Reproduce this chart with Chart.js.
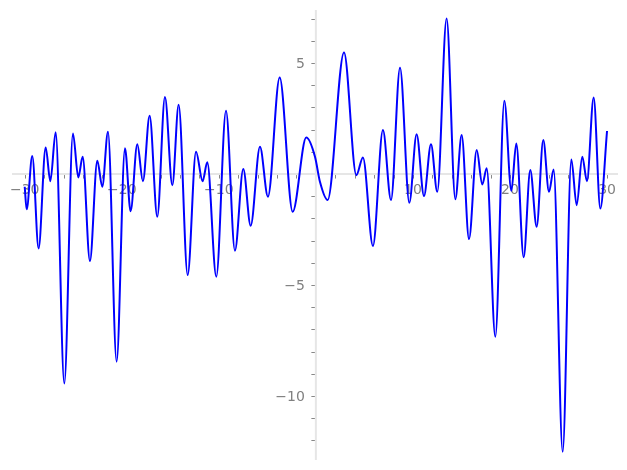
<!DOCTYPE html>
<html>
<head>
<meta charset="utf-8">
<script src="https://cdn.jsdelivr.net/npm/chart.js@4"></script>
<style>
  html, body { margin: 0; padding: 0; background: #fff; }
  canvas { display: block; }
</style>
</head>
<body>
<canvas id="plot" width="627" height="470"></canvas>
<script>
// values (turning points mostly)
const xValues = [-30, -29.80, -29.22, -28.57, -27.84, -27.36, -26.81, -25.92, -25.03, -24.48,
  -24.03, -23.28, -22.52, -22.01, -21.42, -20.53, -19.67, -19.09, -18.40, -17.82,
  -17.13, -16.34, -15.55, -14.79, -14.14, -13.21, -12.35, -11.67, -11.19, -10.26,
  -9.26, -8.34, -7.48, -6.72, -5.76, -4.94, -3.73, -2.39, -0.99, -0.09,
  0.42, 1.21, 2.90, 4.17, 4.85, 5.88, 6.91, 7.74, 8.67, 9.63,
  10.38, 11.14, 11.86, 12.51, 13.47, 14.37, 15.02, 15.78, 16.57, 17.15,
  17.60, 18.49, 19.42, 20.14, 20.65, 21.41, 22.09, 22.75, 23.43, 24.02,
  24.50, 25.43, 26.32, 26.87, 27.45, 27.93, 28.62, 29.31, 30];
const yValues = [-0.57, -1.59, 0.81, -3.35, 1.20, -0.32, 1.88, -9.43, 1.83, -0.15,
  0.78, -3.92, 0.60, -0.57, 1.91, -8.45, 1.16, -1.67, 1.34, -0.32,
  2.63, -1.92, 3.47, -0.50, 3.12, -4.55, 1.01, -0.32, 0.53, -4.62,
  2.85, -3.45, 0.23, -2.33, 1.23, -1.02, 4.35, -1.70, 1.65, 0.78,
  -0.35, -1.17, 5.48, -0.05, 0.75, -3.24, 1.98, -1.17, 4.79, -1.29,
  1.79, -0.99, 1.34, -0.80, 7.01, -1.13, 1.76, -2.93, 1.08, -0.47,
  0.26, -7.33, 3.30, -0.75, 1.38, -3.75, 0.18, -2.37, 1.53, -0.80,
  0.21, -12.51, 0.66, -1.40, 0.78, -0.32, 3.45, -1.55, 1.94];

const xTickLabels = [-30, -20, -10, 10, 20, 30];
const yTickLabels = [5, -5, -10];
const xMinorTicks = [-30, -28, -26, -24, -22, -20, -18, -16, -14, -12, -10, -8, -6, -4, -2,
  2, 4, 6, 8, 10, 12, 14, 16, 18, 20, 22, 24, 26, 28, 30];
const yMinorTicks = [7, 6, 5, 4, 3, 2, 1, -1, -2, -3, -4, -5, -6, -7, -8, -9, -10, -11, -12];

const points = xValues.map((x, i) => ({ x: x, y: yValues[i] }));

function fmt(v) {
  return v < 0 ? '\u2212' + Math.abs(v) : String(v);
}

// axes through the origin, drawn from the chart's own scales
const centerAxes = {
  id: 'centerAxes',
  beforeDatasetsDraw(chart) {
    const ctx = chart.ctx;
    const xs = chart.scales.x;
    const ys = chart.scales.y;
    const area = chart.chartArea;
    const x0 = xs.getPixelForValue(0);
    const y0 = ys.getPixelForValue(0);

    ctx.save();
    ctx.strokeStyle = '#e6e6e6';
    ctx.lineWidth = 2;
    ctx.beginPath();
    ctx.moveTo(area.left, y0);
    ctx.lineTo(area.right, y0);
    ctx.moveTo(x0, area.top);
    ctx.lineTo(x0, area.bottom);
    ctx.stroke();

    ctx.strokeStyle = '#888888';
    ctx.lineWidth = 1;
    ctx.beginPath();
    xMinorTicks.forEach(v => {
      const p = Math.round(xs.getPixelForValue(v)) + 0.5;
      ctx.moveTo(p, y0 + 1);
      ctx.lineTo(p, y0 + 4.5);
    });
    yMinorTicks.forEach(v => {
      const p = Math.round(ys.getPixelForValue(v)) + 0.5;
      ctx.moveTo(x0 - 1, p);
      ctx.lineTo(x0 - 4.5, p);
    });
    ctx.stroke();

    ctx.fillStyle = '#808080';
    ctx.font = '14px "DejaVu Sans"';
    ctx.textAlign = 'center';
    ctx.textBaseline = 'middle';
    xTickLabels.forEach(v => {
      ctx.fillText(fmt(v), xs.getPixelForValue(v), y0 + 16);
    });
    ctx.textAlign = 'right';
    yTickLabels.forEach(v => {
      ctx.fillText(fmt(v), x0 - 11, ys.getPixelForValue(v) + 1);
    });
    ctx.restore();
  }
};

new Chart(document.getElementById('plot'), {
  type: 'line',
  data: {
    datasets: [{
      data: points,
      borderColor: '#0000ff',
      borderWidth: 2,
      pointRadius: 0,
      cubicInterpolationMode: 'monotone',
      fill: false
    }]
  },
  options: {
    responsive: false,
    animation: false,
    layout: { padding: { left: 12, right: 9, top: 10, bottom: 10 } },
    plugins: { legend: { display: false }, tooltip: { enabled: false } },
    scales: {
      x: { type: 'linear', min: -31.31, max: 31.13, display: false },
      y: { type: 'linear', min: -12.88, max: 7.39, display: false }
    }
  },
  plugins: [centerAxes]
});
</script>
</body>
</html>
